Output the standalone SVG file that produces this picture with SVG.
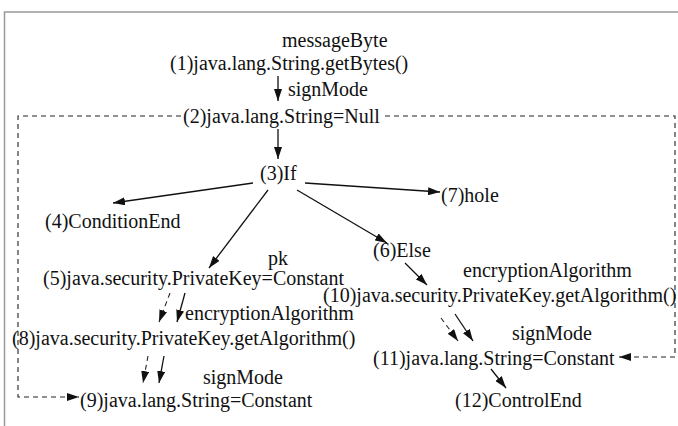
<svg xmlns="http://www.w3.org/2000/svg" width="678" height="426" viewBox="0 0 678 426">
  <defs>
    <marker id="ah" viewBox="0 0 12 8" refX="12" refY="4" markerWidth="12" markerHeight="8" markerUnits="userSpaceOnUse" orient="auto">
      <path d="M0,0 L12,4 L0,8 Z" fill="#111"/>
    </marker>
  </defs>
  <style>
    text { font-family: "Liberation Serif", "Times New Roman", serif; font-size: 20px; fill: #111; }
    .e { stroke: #111; stroke-width: 1.3; fill: none; }
    .d { stroke: #222; stroke-width: 1.1; fill: none; stroke-dasharray: 5 4; }
    .frame { stroke: #999; stroke-width: 1.5; fill: none; }
  </style>
  <rect width="678" height="426" fill="#fff"/>
  <path class="frame" d="M4.5,430 V12 H680"/>

  <g id="connectors">
    <!-- dashed scope box leaving (2) and re-entering at (9) and (11) -->
    <path class="d" d="M181,116 H18 V397 H79" marker-end="url(#ah)"/>
    <path class="d" d="M385,116 H675 V357 H619" marker-end="url(#ah)"/>
    <line class="e" x1="278" y1="76" x2="278" y2="101" marker-end="url(#ah)"/>
    <line class="e" x1="278" y1="129" x2="278" y2="159" marker-end="url(#ah)"/>
    <line class="e" x1="253" y1="183" x2="113" y2="203" marker-end="url(#ah)"/>
    <line class="e" x1="305" y1="183" x2="440" y2="192" marker-end="url(#ah)"/>
    <line class="e" x1="268" y1="190" x2="209" y2="268" marker-end="url(#ah)"/>
    <line class="e" x1="297" y1="190" x2="387" y2="243" marker-end="url(#ah)"/>
    <line class="e" x1="405" y1="263" x2="427" y2="285" marker-end="url(#ah)"/>
    <line class="d" x1="170" y1="293" x2="159" y2="322" marker-end="url(#ah)"/>
    <line class="e" x1="185" y1="293" x2="177" y2="322" marker-end="url(#ah)"/>
    <line class="d" x1="148" y1="356" x2="143" y2="383" marker-end="url(#ah)"/>
    <line class="e" x1="164" y1="356" x2="159" y2="383" marker-end="url(#ah)"/>
    <line class="d" x1="441" y1="318" x2="458" y2="341" marker-end="url(#ah)"/>
    <line class="e" x1="455" y1="314" x2="473" y2="341" marker-end="url(#ah)"/>
    <line class="e" x1="491" y1="369" x2="506" y2="388" marker-end="url(#ah)"/>
  </g>

  <g id="n1">
    <text x="282" y="47">messageByte</text>
    <text x="170" y="70">(1)java.lang.String.getBytes()</text>
  </g>
  <text x="288" y="96">signMode</text>
  <g id="n2"><text x="183" y="123">(2)java.lang.String=Null</text></g>
  <g id="n3"><text x="260" y="180">(3)If</text></g>
  <g id="n4"><text x="45" y="228">(4)ConditionEnd</text></g>
  <g id="n7"><text x="441" y="202">(7)hole</text></g>
  <g id="n6"><text x="373" y="257">(6)Else</text></g>
  <g id="n5">
    <text x="268" y="265">pk</text>
    <text x="43" y="285">(5)java.security.PrivateKey=Constant</text>
  </g>
  <g id="n10">
    <text x="463" y="277">encryptionAlgorithm</text>
    <text x="323" y="302">(10)java.security.PrivateKey.getAlgorithm()</text>
  </g>
  <g id="n8">
    <text x="185" y="320">encryptionAlgorithm</text>
    <text x="12" y="345">(8)java.security.PrivateKey.getAlgorithm()</text>
  </g>
  <g id="n11">
    <text x="512" y="340">signMode</text>
    <text x="373" y="365">(11)java.lang.String=Constant</text>
  </g>
  <g id="n9">
    <text x="203" y="384">signMode</text>
    <text x="80" y="407">(9)java.lang.String=Constant</text>
  </g>
  <g id="n12"><text x="455" y="407">(12)ControlEnd</text></g>
</svg>
